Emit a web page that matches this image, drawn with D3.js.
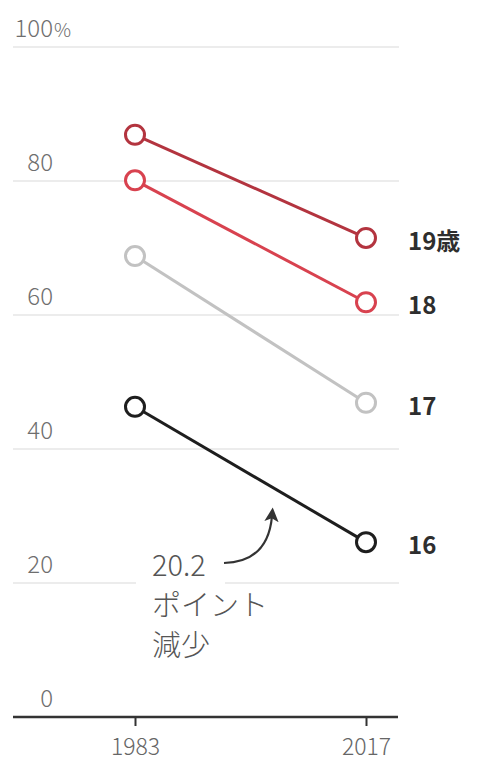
<!DOCTYPE html>
<html>
<head>
<meta charset="utf-8">
<script src="https://cdn.jsdelivr.net/npm/d3@7"></script>
<style>
  html, body { margin: 0; padding: 0; background: #fff; }
  svg text { font-family: "Noto Sans CJK JP", "Noto Sans", sans-serif; }
</style>
</head>
<body>
<div id="chart"></div>
<script>
const years = ["1983", "2017"]
const ages = ["19歳", "18", "17", "16"]
const rate1983 = [86.9, 80.1, 68.8, 46.3]
const rate2017 = [71.5, 61.9, 46.9, 26.1]
const yTicks = [0, 20, 40, 60, 80, 100]
const noteLines = ["20.2", "ポイント", "減少"]

const lineColors = ["#b3343f", "#d8424f", "#c2c2c2", "#1e1e1e"]

const width = 477
const height = 764

const x = d3.scalePoint()
    .domain(years)
    .range([135, 366])

const y = d3.scaleLinear()
    .domain([0, 100])
    .range([717, 47])

const svg = d3.select("#chart")
    .append('svg')
    .attr('width', width)
    .attr('height', height)

// gridlines
svg.append('g')
    .selectAll('line')
    .data(yTicks.filter(d => d > 0))
    .enter()
    .append('line')
        .attr('x1', 13)
        .attr('x2', 399)
        .attr('y1', d => y(d))
        .attr('y2', d => y(d))
        .attr('stroke', '#e6e6e6')
        .attr('stroke-width', 1.5)

// y tick labels, right aligned, % hangs after 100
svg.append('g')
    .selectAll('text')
    .data(yTicks)
    .enter()
    .append('text')
        .attr('x', 53)
        .attr('y', d => y(d) - 10)
        .attr('text-anchor', 'end')
        .attr('font-size', 24)
        .attr('font-weight', 300)
        .attr('fill', '#6e6e6e')
        .text(d => d)

svg.append('text')
    .attr('x', 54)
    .attr('y', y(100) - 10)
    .attr('font-size', 19)
    .attr('font-weight', 300)
    .attr('fill', '#6e6e6e')
    .text('%')

// x axis
const xAxis = d3.axisBottom(x)
    .tickSize(9)
    .tickSizeOuter(0)
    .tickPadding(11)

const ax = svg.append('g')
    .attr('transform', `translate(0, ${y(0)})`)
    .call(xAxis)

ax.select('.domain').remove()
ax.insert('line', ':first-child')
    .attr('x1', 13)
    .attr('x2', 398)
    .attr('stroke', '#333')
    .attr('stroke-width', 2.5)
ax.selectAll('.tick line')
    .attr('stroke', '#333')
    .attr('stroke-width', 2)
ax.selectAll('.tick text')
    .attr('font-size', 23)
    .attr('font-weight', 300)
    .attr('fill', '#666')
    .attr('dy', '0.8em')

// annotation (white backing breaks the 20 gridline)
svg.append('rect')
    .attr('x', 136)
    .attr('y', 548)
    .attr('width', 89)
    .attr('height', 115)
    .attr('fill', '#fff')

svg.append('defs')
    .append('marker')
        .attr('id', 'head')
        .attr('viewBox', '0 0 10 10')
        .attr('refX', 4)
        .attr('refY', 5)
        .attr('markerWidth', 6.5)
        .attr('markerHeight', 6.5)
        .attr('orient', 'auto')
    .append('path')
        .attr('d', 'M0,0 L10,5 L0,10 L2.5,5 z')
        .attr('fill', '#333')

svg.append('path')
    .attr('d', 'M224,563 Q268,562 272,516')
    .attr('fill', 'none')
    .attr('stroke', '#333')
    .attr('stroke-width', 2.2)
    .attr('marker-end', 'url(#head)')

svg.append('g')
    .selectAll('text')
    .data(noteLines)
    .enter()
    .append('text')
        .attr('x', 152)
        .attr('y', (d, i) => 576 + i * 40)
        .attr('font-size', 29)
        .attr('font-weight', 300)
        .attr('fill', '#555')
        .text(d => d)

// slope lines
const rows = ages.map((a, i) => ({
    age: a,
    color: lineColors[i],
    pts: [{ year: years[0], v: rate1983[i] }, { year: years[1], v: rate2017[i] }]
}))

const line = d3.line()
    .x(d => x(d.year))
    .y(d => y(d.v))

const g = svg.append('g')
    .selectAll('g')
    .data(rows.slice().reverse())
    .enter()
    .append('g')

g.append('path')
    .attr('d', d => line(d.pts))
    .attr('fill', 'none')
    .attr('stroke', d => d.color)
    .attr('stroke-width', 3)

g.selectAll('circle')
    .data(d => d.pts.map(p => ({ ...p, color: d.color })))
    .enter()
    .append('circle')
        .attr('cx', d => x(d.year))
        .attr('cy', d => y(d.v))
        .attr('r', 9.5)
        .attr('fill', '#fff')
        .attr('stroke', d => d.color)
        .attr('stroke-width', 3)

g.append('text')
    .attr('x', 408)
    .attr('y', d => y(d.pts[1].v) + 12)
    .attr('font-size', 24)
    .attr('font-weight', 700)
    .attr('fill', '#2e2e2e')
    .text(d => d.age)
</script>
</body>
</html>
